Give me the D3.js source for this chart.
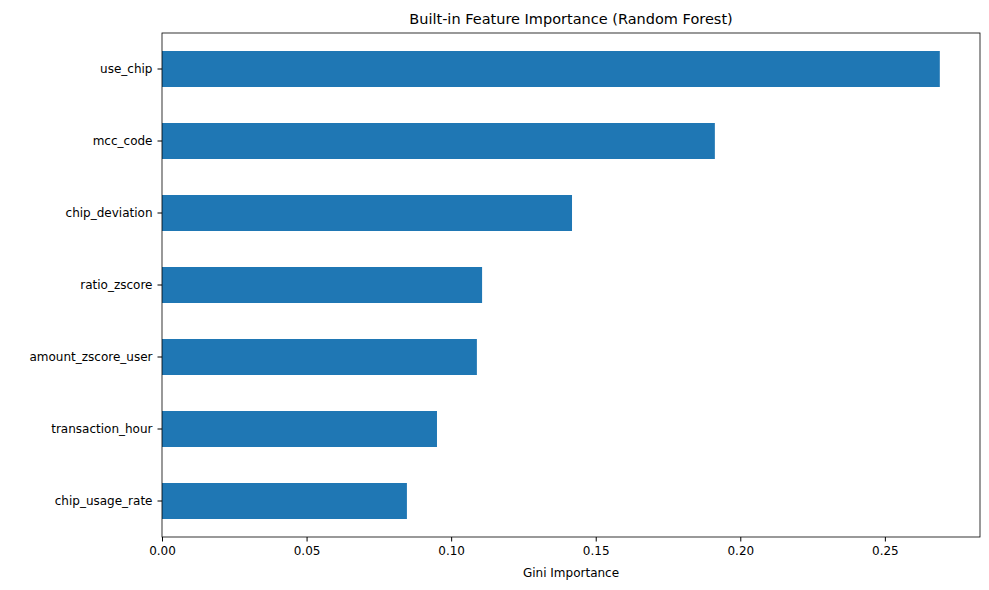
<html>
<head>
  <script src="https://d3js.org/d3.v7.min.js"></script>
  <style>
    body { margin: 0; font-family: 'DejaVu Sans', sans-serif; background: #fff; }
    text { font-family: 'DejaVu Sans', sans-serif; }
  </style>
</head>
<body>
  <svg id="chart" width="989" height="590"></svg>
  <script>
    // data, top to bottom
    const features = ["use_chip", "mcc_code", "chip_deviation", "ratio_zscore",
      "amount_zscore_user", "transaction_hour", "chip_usage_rate"];
    const importance = [0.2690, 0.1912, 0.1418, 0.1107, 0.1089, 0.0951, 0.0847];
    const xTicks = [0, 0.05, 0.10, 0.15, 0.20, 0.25];

    const svg = d3.select("#chart");
    const margin = { top: 33, right: 9, bottom: 53, left: 162 };
    const width = 989 - margin.left - margin.right;
    const height = 590 - margin.top - margin.bottom;

    const g = svg.append("g").attr("transform", `translate(${margin.left},${margin.top})`);

    const x = d3.scaleLinear().domain([0, 0.2829]).range([0, width]);
    const y = d3.scaleBand().domain(features).range([0, height])
      .paddingInner(0.5).paddingOuter(0.25);

    g.selectAll("rect.bar")
      .data(features)
      .join("rect").attr("class", "bar")
      .attr("fill", "#1f77b4")
      .attr("x", x(0))
      .attr("y", d => y(d))
      .attr("width", (d, i) => x(importance[i]) - x(0))
      .attr("height", y.bandwidth());

    // axes
    g.append("g")
      .attr("transform", `translate(0,${height})`)
      .call(d3.axisBottom(x).tickValues(xTicks).tickFormat(d3.format(".2f")).tickSizeOuter(0).tickSize(4.5).tickPadding(5))
      .call(a => a.selectAll("text").attr("font-size", 12).attr("font-family", "DejaVu Sans").attr("fill", "#000"))
      .call(a => a.select(".domain").remove());

    g.append("g")
      .call(d3.axisLeft(y).tickSizeOuter(0).tickSize(4.5).tickPadding(5))
      .call(a => a.selectAll("text").attr("font-size", 12).attr("font-family", "DejaVu Sans").attr("fill", "#000"))
      .call(a => a.select(".domain").remove());

    // frame
    g.append("rect")
      .attr("width", width).attr("height", height)
      .attr("fill", "none").attr("stroke", "#000").attr("stroke-width", 0.8);

    svg.append("text")
      .attr("x", margin.left + width / 2).attr("y", 24)
      .attr("text-anchor", "middle").attr("font-size", 14.5)
      .text("Built-in Feature Importance (Random Forest)");

    svg.append("text")
      .attr("x", margin.left + width / 2).attr("y", 577)
      .attr("text-anchor", "middle").attr("font-size", 12)
      .text("Gini Importance");
  </script>
</body>
</html>
